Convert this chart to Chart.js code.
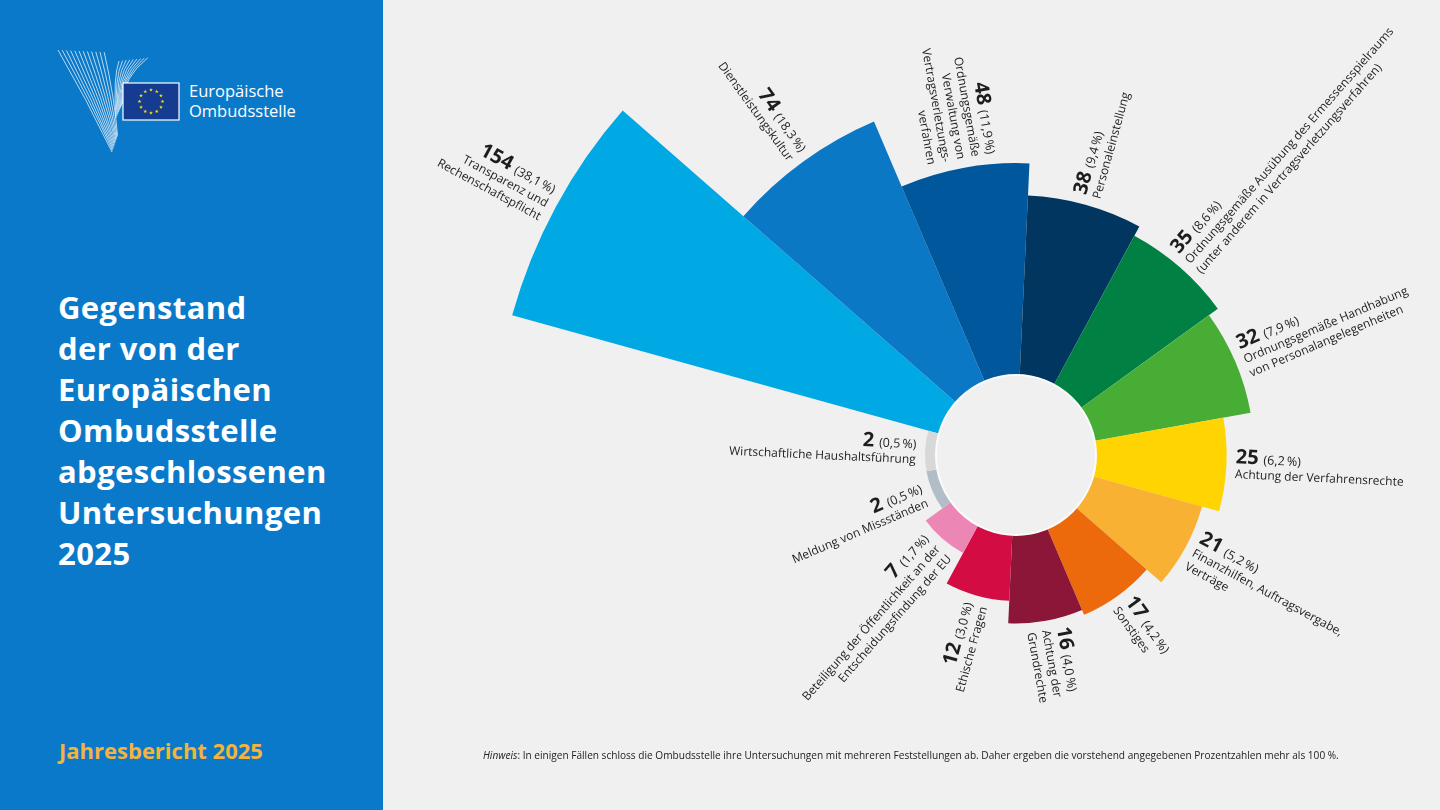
<!DOCTYPE html>
<html lang="de">
<head>
<meta charset="utf-8">
<title>Gegenstand der abgeschlossenen Untersuchungen 2025</title>
<script src="https://cdn.jsdelivr.net/npm/chart.js"></script>
<style>
  html, body { margin: 0; padding: 0; }
  body {
    width: 1440px; height: 810px; overflow: hidden; position: relative;
    background: #f0f0f0; font-family: "Open Sans", "Noto Sans", sans-serif;
  }
  #panel {
    position: absolute; left: 0; top: 0; width: 383px; height: 810px;
    background: #0a79c9;
  }
  #logo { position: absolute; left: 0; top: 0; }
  #logoText {
    position: absolute; left: 189px; top: 81px; color: #fff;
    font-size: 16.5px; line-height: 20px;
  }
  #title {
    position: absolute; left: 58px; top: 287px; color: #fff;
    font-weight: 700; font-size: 31px; line-height: 41px; letter-spacing: 0.4px;
  }
  #report {
    position: absolute; left: 59px; top: 735px; color: #f3b33d;
    font-weight: 700; font-size: 22px;
  }
  #note {
    position: absolute; left: 483px; top: 748px; color: #222;
    font-size: 10.1px; white-space: nowrap;
  }
  #chart { position: absolute; left: 366px; top: -195px; }
</style>
</head>
<body>
<div id="panel">
  <svg id="logo" width="383" height="180"></svg>
  <div id="logoText">Europäische<br>Ombudsstelle</div>
  <div id="title">Gegenstand<br>der von der<br>Europäischen<br>Ombudsstelle<br>abgeschlossenen<br>Untersuchungen<br>2025</div>
  <div id="report">Jahresbericht 2025</div>
</div>
<canvas id="chart" width="1300" height="1300"></canvas>
<div id="note"><i>Hinweis</i>: In einigen Fällen schloss die Ombudsstelle ihre Untersuchungen mit mehreren Feststellungen ab. Daher ergeben die vorstehend angegebenen Prozentzahlen mehr als 100 %.</div>

<script>
// data
const categories = [
  'Transparenz und Rechenschaftspflicht',
  'Dienstleistungskultur',
  'Ordnungsgemäße Verwaltung von Vertragsverletzungsverfahren',
  'Personaleinstellung',
  'Ordnungsgemäße Ausübung des Ermessensspielraums',
  'Ordnungsgemäße Handhabung von Personalangelegenheiten',
  'Achtung der Verfahrensrechte',
  'Finanzhilfen, Auftragsvergabe, Verträge',
  'Sonstiges',
  'Achtung der Grundrechte',
  'Ethische Fragen',
  'Beteiligung der Öffentlichkeit an der Entscheidungsfindung der EU',
  'Meldung von Missständen',
  'Wirtschaftliche Haushaltsführung'
];
const counts = [154, 74, 48, 38, 35, 32, 25, 21, 17, 16, 12, 7, 2, 2];
const percents = ['38,1', '18,3', '11,9', '9,4', '8,6', '7,9', '6,2', '5,2', '4,2', '4,0', '3,0', '1,7', '0,5', '0,5'];
// how the category names are broken into lines next to the wedges
const labelLines = [
  ['Transparenz und', 'Rechenschaftspflicht'],
  ['Dienstleistungskultur'],
  ['Ordnungsgemäße', 'Verwaltung von', 'Vertragsverletzungs-', 'verfahren'],
  ['Personaleinstellung'],
  ['Ordnungsgemäße Ausübung des Ermessensspielraums', '(unter anderem in Vertragsverletzungsverfahren)'],
  ['Ordnungsgemäße Handhabung', 'von Personalangelegenheiten'],
  ['Achtung der Verfahrensrechte'],
  ['Finanzhilfen, Auftragsvergabe,', 'Verträge'],
  ['Sonstiges'],
  ['Achtung der', 'Grundrechte'],
  ['Ethische Fragen'],
  ['Beteiligung der Öffentlichkeit an der', 'Entscheidungsfindung der EU'],
  ['Meldung von Missständen'],
  ['Wirtschaftliche Haushaltsführung']
];
const colors = ['#00a8e4', '#0b78c5', '#00579b', '#00365f', '#008143', '#48ad34', '#ffd400',
                '#f8b133', '#ec6a0c', '#8b1637', '#d30d43', '#ec87b5', '#b1bdc7', '#d8d8d8'];

// logo: bird-like "Y" drawn with thin lines, plus the EU flag
(function drawLogo() {
  const svg = document.getElementById('logo');
  let s = '';
  for (let t = 0; t < 12; t++) {
    s += `<path d="M${58 + 4.2 * t} ${50 + 0.2 * t} Q${86 + 2.6 * t} ${98} ${112 + 0.5 * t} ${152 - 1.5 * t}" stroke="#fff" stroke-width="0.8" fill="none" opacity="0.9"/>`;
  }
  for (let t = 0; t < 9; t++) {
    s += `<path d="M${119 + 3.6 * t} ${61 - 0.4 * t} Q${113 + 1.2 * t} ${78} ${116 + 0.9 * t} ${118 - 2 * t}" stroke="#fff" stroke-width="0.8" fill="none" opacity="0.9"/>`;
  }
  s += '<rect x="123" y="83" width="56" height="37" fill="#163c92" stroke="#fff" stroke-width="1.2"/>';
  for (let k = 0; k < 12; k++) {
    const a = k * Math.PI / 6;
    const cx = 151 + 11.5 * Math.cos(a), cy = 101.5 + 11.5 * Math.sin(a);
    let pts = [];
    for (let p = 0; p < 10; p++) {
      const rr = p % 2 ? 0.8 : 2;
      const b = -Math.PI / 2 + p * Math.PI / 5;
      pts.push((cx + rr * Math.cos(b)).toFixed(2) + ',' + (cy + rr * Math.sin(b)).toFixed(2));
    }
    s += `<polygon points="${pts.join(' ')}" fill="#ffde00"/>`;
  }
  svg.innerHTML = s;
})();

// radial scale whose distance grows with the square root of the value (area proportional)
class SqrtRadialScale extends Chart.RadialLinearScale {
  getDistanceFromCenterForValue(value) {
    if (value === null || isNaN(value)) return 0;
    const share = Math.max(0, (value - this.min) / (this.max - this.min));
    const r = this.drawingArea * Math.sqrt(share);
    return Math.max(r, this.options.minDistance || 0);
  }
}
SqrtRadialScale.id = 'sqrtRadial';
Chart.register(SqrtRadialScale);

const HOLE = 80;
const TEXT = '#1d1d1b';

const wedgeLabels = {
  id: 'wedgeLabels',
  afterDatasetsDraw(chart) {
    const ctx = chart.ctx;
    const meta = chart.getDatasetMeta(0);
    const c = meta.data[0];

    // centre hole
    ctx.save();
    ctx.beginPath();
    ctx.arc(c.x, c.y, HOLE, 0, Math.PI * 2);
    ctx.fillStyle = '#f0f0f0';
    ctx.fill();
    ctx.lineWidth = 2;
    ctx.strokeStyle = '#fbfbfb';
    ctx.stroke();
    ctx.restore();

    meta.data.forEach((arc, i) => {
      const mid = (arc.startAngle + arc.endAngle) / 2;
      let a = Math.atan2(Math.sin(mid), Math.cos(mid));
      const left = Math.abs(a) > Math.PI / 2;
      const r = arc.outerRadius + 9;
      const lines = labelLines[i];
      const n = lines.length + 1;
      const lh = 15;
      const b0 = -(lh * (n - 1) - 11) / 2;

      ctx.save();
      ctx.translate(arc.x + r * Math.cos(mid), arc.y + r * Math.sin(mid));
      ctx.rotate(left ? mid + Math.PI : mid);
      ctx.fillStyle = TEXT;
      ctx.textBaseline = 'alphabetic';

      const numText = String(counts[i]);
      const pctText = '(' + percents[i] + '\u2009%)';
      ctx.font = 'bold 20px "Open Sans"';
      const numW = ctx.measureText(numText).width;
      ctx.font = '12.5px "Open Sans"';
      const pctW = ctx.measureText(pctText).width;
      const gap = 5;
      const x0 = left ? -(numW + gap + pctW) : 0;
      ctx.textAlign = 'left';
      ctx.font = 'bold 20px "Open Sans"';
      ctx.fillText(numText, x0, b0);
      ctx.font = '12.5px "Open Sans"';
      ctx.fillText(pctText, x0 + numW + gap, b0);

      ctx.font = '12px "Open Sans"';
      ctx.textAlign = left ? 'right' : 'left';
      lines.forEach((line, j) => ctx.fillText(line, 0, b0 + lh * (j + 1)));
      ctx.restore();
    });
  }
};

new Chart(document.getElementById('chart'), {
  type: 'polarArea',
  data: {
    labels: categories,
    datasets: [{
      data: counts,
      backgroundColor: colors,
      borderWidth: 0
    }]
  },
  options: {
    responsive: false,
    animation: false,
    events: [],
    layout: { padding: 0 },
    plugins: { legend: { display: false }, tooltip: { enabled: false } },
    scales: {
      r: {
        type: 'sqrtRadial',
        min: 0,
        max: 238,
        startAngle: 285.5,
        minDistance: 91,
        display: false
      }
    }
  },
  plugins: [wedgeLabels]
});
</script>
</body>
</html>
